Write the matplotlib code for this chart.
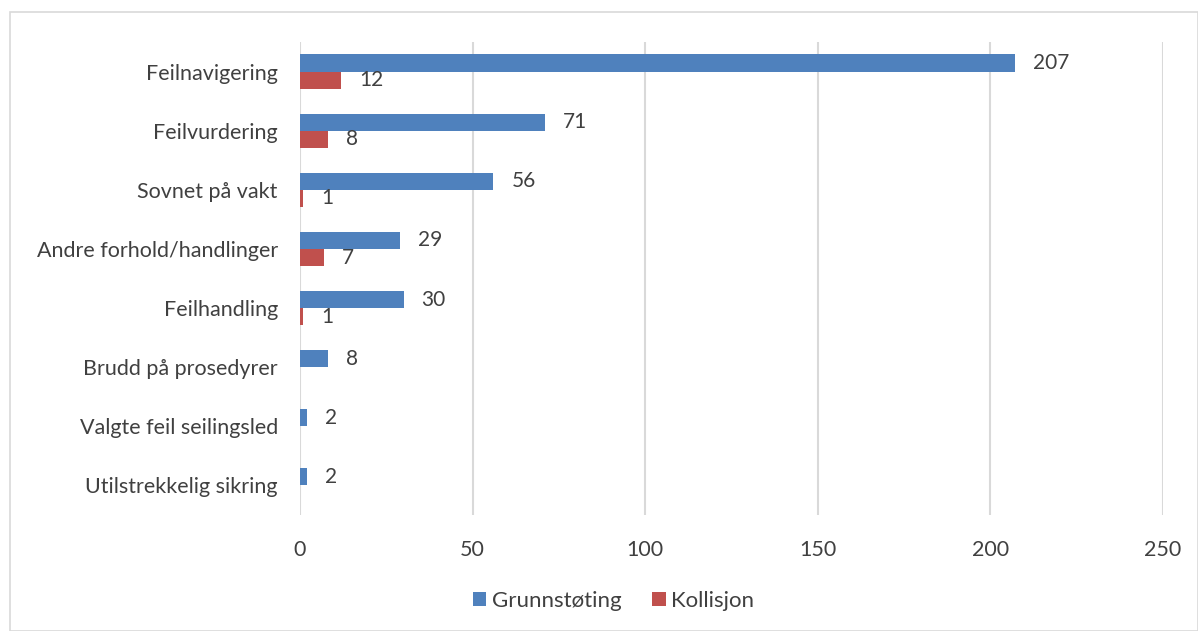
import matplotlib.pyplot as plt
import numpy as np
from matplotlib.patches import Rectangle

categories = [
    "Feilnavigering",
    "Feilvurdering",
    "Sovnet på vakt",
    "Andre forhold/handlinger",
    "Feilhandling",
    "Brudd på prosedyrer",
    "Valgte feil seilingsled",
    "Utilstrekkelig sikring",
]
grunnstoting = [207, 71, 56, 29, 30, 8, 2, 2]
kollisjon = [12, 8, 1, 7, 1, 0, 0, 0]
xticks = [0, 50, 100, 150, 200, 250]

BLUE = "#4f81bd"
RED = "#c0504d"
TEXT = "#404040"
GRID = "#d9d9d9"

plt.rcParams["font.family"] = ["Lato", "DejaVu Sans"]

fig = plt.figure(figsize=(11.98, 6.31), dpi=100)
ax = fig.add_axes([0.2504, 0.1838, 0.7204, 0.7496])

# outer chart frame
fig.patches.append(Rectangle((0.008, 0.0), 0.992, 0.981, transform=fig.transFigure,
                             fill=False, edgecolor=GRID, linewidth=1.2))

y = np.arange(len(categories))
h = 0.29
b1 = ax.barh(y - h / 2, grunnstoting, height=h, color=BLUE, label="Grunnstøting", zorder=3)
b2 = ax.barh(y + h / 2, kollisjon, height=h, color=RED, label="Kollisjon", zorder=3)

for yy, v in zip(y, grunnstoting):
    ax.annotate(str(v), (v, yy - h / 2), xytext=(13, 0), textcoords="offset points",
                va="center", ha="left", fontsize=15, color=TEXT)
for yy, v in zip(y, kollisjon):
    if v > 0:
        ax.annotate(str(v), (v, yy + h / 2), xytext=(13, 0), textcoords="offset points",
                    va="center", ha="left", fontsize=15, color=TEXT)

ax.set_xlim(0, 250)
ax.set_ylim(len(categories) - 0.5, -0.5)
ax.set_xticks(xticks)
ax.set_yticks(y)
ax.set_yticklabels(categories)
ax.tick_params(axis="both", length=0, labelsize=15.5, labelcolor=TEXT)
ax.tick_params(axis="x", pad=18)
ax.tick_params(axis="y", pad=16)
ax.grid(axis="x", color=GRID, linewidth=1.5, zorder=0)
for s in ax.spines.values():
    s.set_visible(False)

leg = fig.legend(handles=[b1, b2], loc="center", bbox_to_anchor=(0.512, 0.048), ncol=2,
                 frameon=False, fontsize=16, handlelength=0.6, handleheight=0.6,
                 handletextpad=0.25, columnspacing=1.4)
for t in leg.get_texts():
    t.set_color(TEXT)

fig.savefig("out.png", dpi=100)
